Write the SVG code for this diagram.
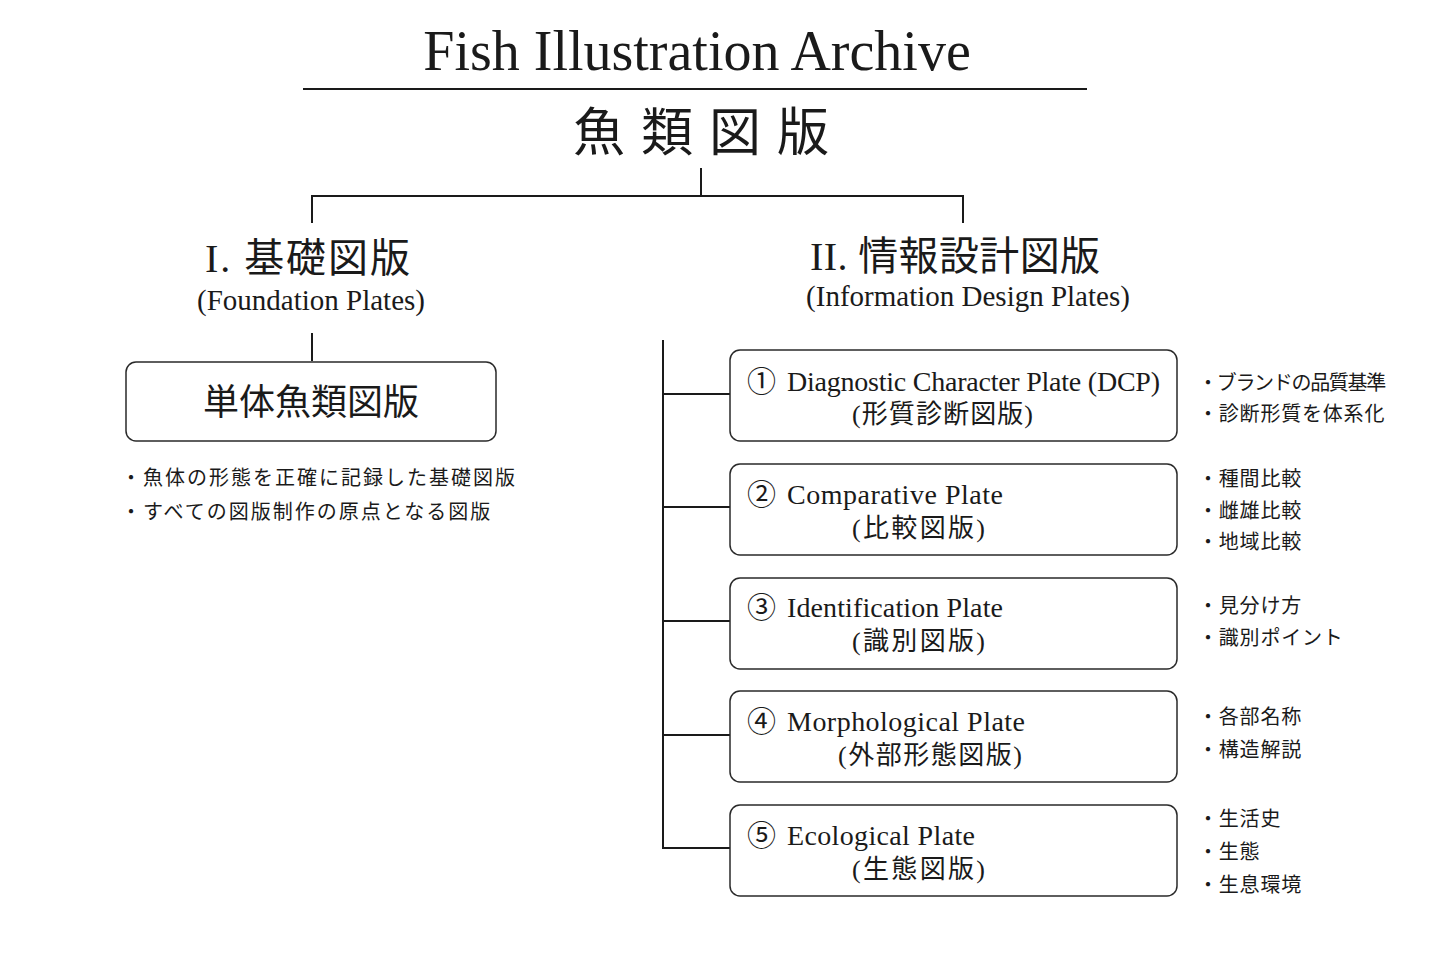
<svg xmlns="http://www.w3.org/2000/svg" width="1440" height="960" viewBox="0 0 1440 960">
<style>
  .lat { font-family: "Liberation Serif", "Noto Sans CJK JP", serif; fill: #1a1a1a; }
  .jp { font-family: "Noto Sans CJK JP", "Liberation Serif", sans-serif; fill: #1a1a1a; }
  .ln { stroke: #1a1a1a; stroke-width: 2; fill: none; }
  .box { fill: #ffffff; stroke: #2a2a2a; stroke-width: 1.5; }
  .num { font-size: 29px; }
  .b1 { font-size: 28px; }
  .b2 { font-size: 26px; }
  .note { font-size: 20px; letter-spacing: 0.8px; }
  .lnote { font-size: 20px; letter-spacing: 2px; }
</style>
<rect width="1440" height="960" fill="#ffffff"/>

<g id="title">
  <text class="lat" x="697" y="70" font-size="56" text-anchor="middle">Fish Illustration Archive</text>
  <line class="ln" x1="303" y1="89" x2="1087" y2="89"/>
  <text class="jp" x="573" y="151" font-size="52" letter-spacing="16">魚類図版</text>
</g>

<g id="connectors">
  <line class="ln" x1="701" y1="168" x2="701" y2="196"/>
  <polyline class="ln" points="312,223 312,196 963,196 963,223"/>
  <line class="ln" x1="312" y1="333" x2="312" y2="361"/>
  <line class="ln" x1="663" y1="340" x2="663" y2="849"/>
  <line class="ln" x1="662" y1="394" x2="730" y2="394"/>
  <line class="ln" x1="662" y1="507" x2="730" y2="507"/>
  <line class="ln" x1="662" y1="621" x2="730" y2="621"/>
  <line class="ln" x1="662" y1="735" x2="730" y2="735"/>
  <line class="ln" x1="662" y1="848" x2="730" y2="848"/>
</g>

<g id="foundation-header">
  <text class="lat" x="205" y="272" font-size="40" textLength="205">I. 基礎図版</text>
  <text class="lat" x="311" y="310" font-size="29" text-anchor="middle">(Foundation Plates)</text>
</g>

<g id="info-header">
  <text class="lat" x="810" y="270" font-size="40" textLength="290">II. 情報設計図版</text>
  <text class="lat" x="968" y="306" font-size="29" text-anchor="middle">(Information Design Plates)</text>
</g>

<g id="single-plate">
  <rect class="box" x="126" y="362" width="370" height="79" rx="10"/>
  <text class="jp" x="311" y="415" font-size="36" text-anchor="middle">単体魚類図版</text>
  <text class="jp lnote" x="121" y="485">・魚体の形態を正確に記録した基礎図版</text>
  <text class="jp lnote" x="121" y="519">・すべての図版制作の原点となる図版</text>
</g>

<g id="plate-1">
  <rect class="box" x="730" y="350" width="447" height="91" rx="10"/>
  <text class="jp num" x="747" y="392">①</text>
  <text class="lat b1" x="787" y="391" textLength="373">Diagnostic Character Plate (DCP)</text>
  <text class="lat b2" x="852" y="423" textLength="181">(形質診断図版)</text>
  <text class="jp note" x="1198" y="390" textLength="189">・ブランドの品質基準</text>
  <text class="jp note" x="1198" y="421">・診断形質を体系化</text>
</g>

<g id="plate-2">
  <rect class="box" x="730" y="464" width="447" height="91" rx="10"/>
  <text class="jp num" x="747" y="505">②</text>
  <text class="lat b1" x="787" y="504" textLength="216">Comparative Plate</text>
  <text class="lat b2" x="852" y="537" textLength="133">(比較図版)</text>
  <text class="jp note" x="1198" y="486">・種間比較</text>
  <text class="jp note" x="1198" y="518">・雌雄比較</text>
  <text class="jp note" x="1198" y="549">・地域比較</text>
</g>

<g id="plate-3">
  <rect class="box" x="730" y="578" width="447" height="91" rx="10"/>
  <text class="jp num" x="747" y="618">③</text>
  <text class="lat b1" x="787" y="617" textLength="216">Identification Plate</text>
  <text class="lat b2" x="852" y="650" textLength="133">(識別図版)</text>
  <text class="jp note" x="1198" y="613">・見分け方</text>
  <text class="jp note" x="1198" y="645">・識別ポイント</text>
</g>

<g id="plate-4">
  <rect class="box" x="730" y="691" width="447" height="91" rx="10"/>
  <text class="jp num" x="747" y="732">④</text>
  <text class="lat b1" x="787" y="731" textLength="238">Morphological Plate</text>
  <text class="lat b2" x="838" y="764" textLength="184">(外部形態図版)</text>
  <text class="jp note" x="1198" y="724">・各部名称</text>
  <text class="jp note" x="1198" y="757">・構造解説</text>
</g>

<g id="plate-5">
  <rect class="box" x="730" y="805" width="447" height="91" rx="10"/>
  <text class="jp num" x="747" y="846">⑤</text>
  <text class="lat b1" x="787" y="845" textLength="188">Ecological Plate</text>
  <text class="lat b2" x="852" y="878" textLength="133">(生態図版)</text>
  <text class="jp note" x="1198" y="826">・生活史</text>
  <text class="jp note" x="1198" y="859">・生態</text>
  <text class="jp note" x="1198" y="892">・生息環境</text>
</g>
</svg>
